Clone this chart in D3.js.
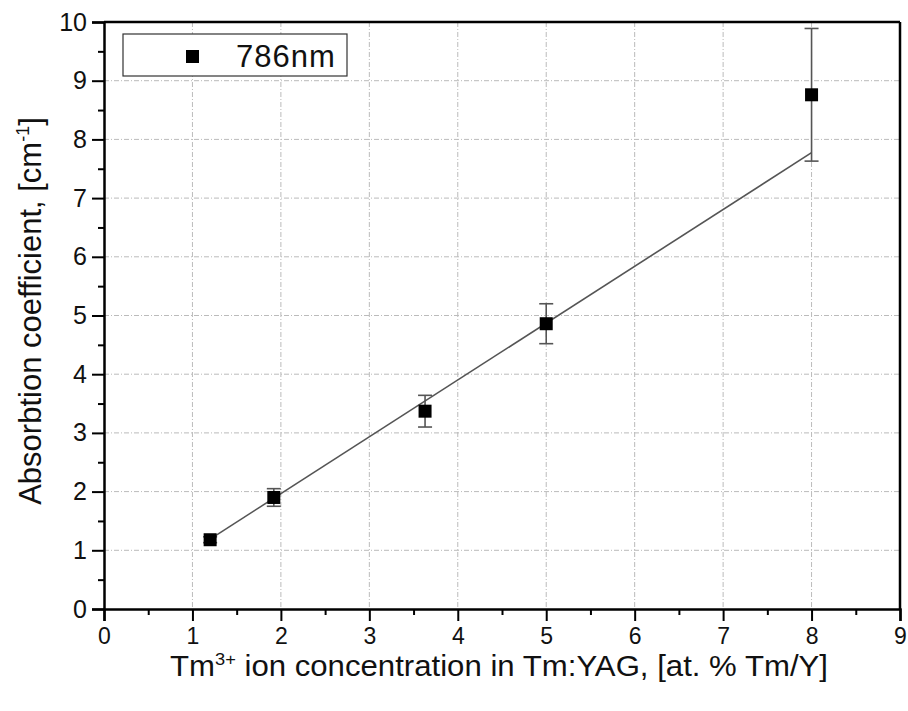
<!DOCTYPE html>
<html>
<head>
<meta charset="utf-8">
<script src="https://cdn.jsdelivr.net/npm/d3@7"></script>
<style>
  body { margin: 0; background: #fff; }
  text { font-family: "Liberation Sans", Arial, sans-serif; fill: #111; }
</style>
</head>
<body>
<div id="chart"></div>
<script>
// data
var concentration = [1.2, 1.92, 3.63, 5.0, 8.0];
var absorption = [1.18, 1.9, 3.37, 4.86, 8.76];
var errorBar = [0.05, 0.15, 0.27, 0.34, 1.13];
var fitRange = [1.2, 8.0];
var fitSlope = 0.968;
var fitIntercept = 0.03;
var xTicks = [0, 1, 2, 3, 4, 5, 6, 7, 8, 9];
var yTicks = [0, 1, 2, 3, 4, 5, 6, 7, 8, 9, 10];
var seriesName = "786nm";

var svgWidth = 908;
var svgHeight = 711;

var margin = { top: 22, right: 8, bottom: 102, left: 104 };
var width = svgWidth - margin.left - margin.right;
var height = svgHeight - margin.top - margin.bottom;

var svg = d3.select("#chart")
  .append("svg")
  .attr("width", svgWidth)
  .attr("height", svgHeight);

var chartGroup = svg.append("g")
  .attr("transform", `translate(${margin.left}, ${margin.top})`);

var xScale = d3.scaleLinear().domain([0, 9]).range([0, width]);
var yScale = d3.scaleLinear().domain([0, 10]).range([height, 0]);

// grid
chartGroup.append("g")
  .selectAll("line")
  .data(xTicks.slice(1, -1))
  .enter()
  .append("line")
  .attr("x1", d => xScale(d)).attr("x2", d => xScale(d))
  .attr("y1", 0).attr("y2", height)
  .attr("stroke", "#bbb")
  .attr("stroke-dasharray", "5,2,1,2");

chartGroup.append("g")
  .selectAll("line")
  .data(yTicks.slice(1, -1))
  .enter()
  .append("line")
  .attr("y1", d => yScale(d)).attr("y2", d => yScale(d))
  .attr("x1", 0).attr("x2", width)
  .attr("stroke", "#bbb")
  .attr("stroke-dasharray", "5,2,1,2");

// minor ticks (half units)
var xMinor = d3.range(0.5, 9, 1);
var yMinor = d3.range(0.5, 10, 1);

chartGroup.append("g")
  .attr("transform", `translate(0, ${height})`)
  .call(d3.axisBottom(xScale).tickValues(xMinor).tickSize(6).tickFormat(""))
  .call(g => g.select(".domain").remove())
  .selectAll("line").attr("stroke-width", 2);

chartGroup.append("g")
  .call(d3.axisLeft(yScale).tickValues(yMinor).tickSize(6).tickFormat(""))
  .call(g => g.select(".domain").remove())
  .selectAll("line").attr("stroke-width", 2);

// major axes
var bottomAxis = d3.axisBottom(xScale).tickValues(xTicks).tickSize(12).tickPadding(7);
var leftAxis = d3.axisLeft(yScale).tickValues(yTicks).tickSize(12).tickPadding(5);

var xAxisG = chartGroup.append("g")
  .attr("transform", `translate(0, ${height})`)
  .call(bottomAxis);
xAxisG.select(".domain").attr("stroke-width", 2.5);
xAxisG.selectAll("line").attr("stroke-width", 2);
xAxisG.selectAll("text")
  .attr("font-size", 23)
  .style("fill", "#111");

var yAxisG = chartGroup.append("g").call(leftAxis);
yAxisG.select(".domain").attr("stroke-width", 2.5);
yAxisG.selectAll("line").attr("stroke-width", 2);
yAxisG.selectAll("text")
  .attr("font-size", 25)
  .style("fill", "#111");

// top / right frame
chartGroup.append("line")
  .attr("x1", 0).attr("x2", width).attr("y1", 0).attr("y2", 0)
  .attr("stroke", "#000").attr("stroke-width", 2.5);
chartGroup.append("line")
  .attr("x1", width).attr("x2", width).attr("y1", 0).attr("y2", height)
  .attr("stroke", "#000").attr("stroke-width", 2.5);

// linear fit
chartGroup.append("line")
  .attr("x1", xScale(fitRange[0]))
  .attr("y1", yScale(fitSlope * fitRange[0] + fitIntercept))
  .attr("x2", xScale(fitRange[1]))
  .attr("y2", yScale(fitSlope * fitRange[1] + fitIntercept))
  .attr("stroke", "#555")
  .attr("stroke-width", 1.6);

var points = concentration.map((c, i) => ({ x: c, y: absorption[i], e: errorBar[i] }));

// error bars
var errG = chartGroup.append("g").attr("stroke", "#555").attr("stroke-width", 1.6);
errG.selectAll(".stem")
  .data(points).enter().append("line")
  .attr("x1", d => xScale(d.x)).attr("x2", d => xScale(d.x))
  .attr("y1", d => yScale(d.y + d.e)).attr("y2", d => yScale(d.y - d.e));
errG.selectAll(".capTop")
  .data(points).enter().append("line")
  .attr("x1", d => xScale(d.x) - 7).attr("x2", d => xScale(d.x) + 7)
  .attr("y1", d => yScale(d.y + d.e)).attr("y2", d => yScale(d.y + d.e));
errG.selectAll(".capBottom")
  .data(points).enter().append("line")
  .attr("x1", d => xScale(d.x) - 7).attr("x2", d => xScale(d.x) + 7)
  .attr("y1", d => yScale(d.y - d.e)).attr("y2", d => yScale(d.y - d.e));

// markers
var mk = 13;
chartGroup.selectAll(".marker")
  .data(points).enter().append("rect")
  .attr("x", d => xScale(d.x) - mk / 2)
  .attr("y", d => yScale(d.y) - mk / 2)
  .attr("width", mk).attr("height", mk)
  .attr("fill", "#000");

// legend
var legend = svg.append("g").attr("transform", "translate(123, 34)");
legend.append("rect")
  .attr("width", 224).attr("height", 42)
  .attr("fill", "#fff").attr("stroke", "#333").attr("stroke-width", 1.2);
legend.append("rect")
  .attr("x", 63).attr("y", 16).attr("width", 13).attr("height", 13)
  .attr("fill", "#000");
legend.append("text")
  .attr("x", 113).attr("y", 33)
  .attr("font-size", 31)
  .attr("letter-spacing", 1)
  .text(seriesName);

// axis titles
var xTitle = svg.append("text")
  .attr("x", 170).attr("y", 676)
  .attr("textLength", 658)
  .attr("lengthAdjust", "spacingAndGlyphs")
  .attr("font-size", 29);
xTitle.append("tspan").text("Tm");
xTitle.append("tspan").attr("dy", -11).attr("font-size", 17).text("3+");
xTitle.append("tspan").attr("dy", 11).text(" ion concentration in Tm:YAG, [at. % Tm/Y]");

var yTitle = svg.append("text")
  .attr("transform", "translate(41, 311) rotate(-90)")
  .attr("text-anchor", "middle")
  .attr("font-size", 31);
yTitle.append("tspan").text("Absorbtion coefficient, [cm");
yTitle.append("tspan").attr("dy", -12).attr("font-size", 18).text("-1");
yTitle.append("tspan").attr("dy", 12).text("]");
</script>
</body>
</html>
